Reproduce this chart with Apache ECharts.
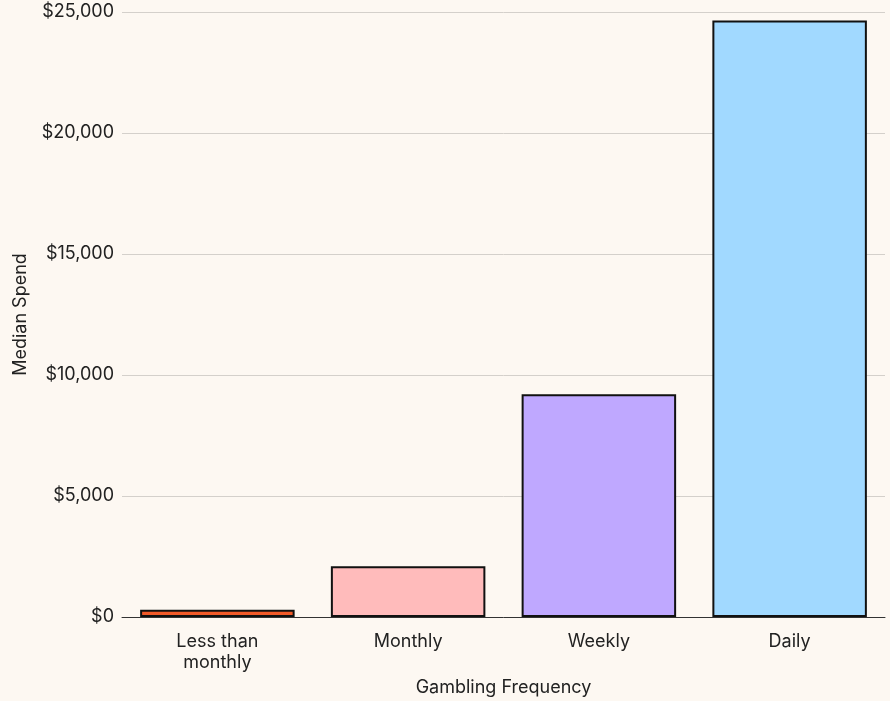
<!DOCTYPE html>
<html><head><meta charset="utf-8">
<script src="https://cdn.jsdelivr.net/npm/echarts@6/dist/echarts.min.js"></script>
<style>html,body{margin:0;padding:0;background:#FDF8F2}#c{width:890px;height:701px}</style>
</head><body><div id="c"></div>
<script>
const categories = ["Less than\nmonthly", "Monthly", "Weekly", "Daily"];
const medianSpend = [300, 2100, 9200, 24650];
const barColors = ["#F15A29", "#FFBBBB", "#BFA8FF", "#A1D9FF"];
const yTicks = [0, 5000, 10000, 15000, 20000, 25000];

const chart = echarts.init(document.getElementById('c'), null, {renderer: 'canvas'});
const font = 'Inter, "Noto Sans", sans-serif';
chart.setOption({
  backgroundColor: '#FDF8F2',
  animation: false,
  grid: {left: 122, right: 5, top: 12, bottom: 84, containLabel: false, outerBoundsMode: 'none'},
  xAxis: {
    type: 'category',
    data: categories,
    name: 'Gambling Frequency',
    nameLocation: 'middle',
    nameGap: 62,
    nameTextStyle: {fontFamily: font, fontSize: 18, color: '#222'},
    axisLine: {lineStyle: {color: '#333', width: 1}},
    axisTick: {alignWithLabel: true, length: 6, lineStyle: {color: '#BBB'}},
    axisLabel: {fontFamily: font, fontSize: 18, color: '#222', margin: 14, lineHeight: 21},
  },
  yAxis: {
    type: 'value',
    min: yTicks[0], max: yTicks[yTicks.length - 1], interval: 5000,
    name: 'Median Spend',
    nameLocation: 'middle',
    nameGap: 92,
    nameTextStyle: {fontFamily: font, fontSize: 18, color: '#222'},
    axisLine: {show: false},
    axisTick: {show: false},
    splitLine: {lineStyle: {color: '#D4D0CB', width: 1}},
    axisLabel: {
      fontFamily: font, fontSize: 18, color: '#222', margin: 8,
      formatter: v => '$' + v.toLocaleString('en-US')
    }
  },
  series: [{
    type: 'bar',
    data: medianSpend.map((v, i) => ({value: v, itemStyle: {color: barColors[i]}})),
    barCategoryGap: '19%',
    itemStyle: {borderColor: '#111', borderWidth: 2}
  }]
});
</script></body></html>
